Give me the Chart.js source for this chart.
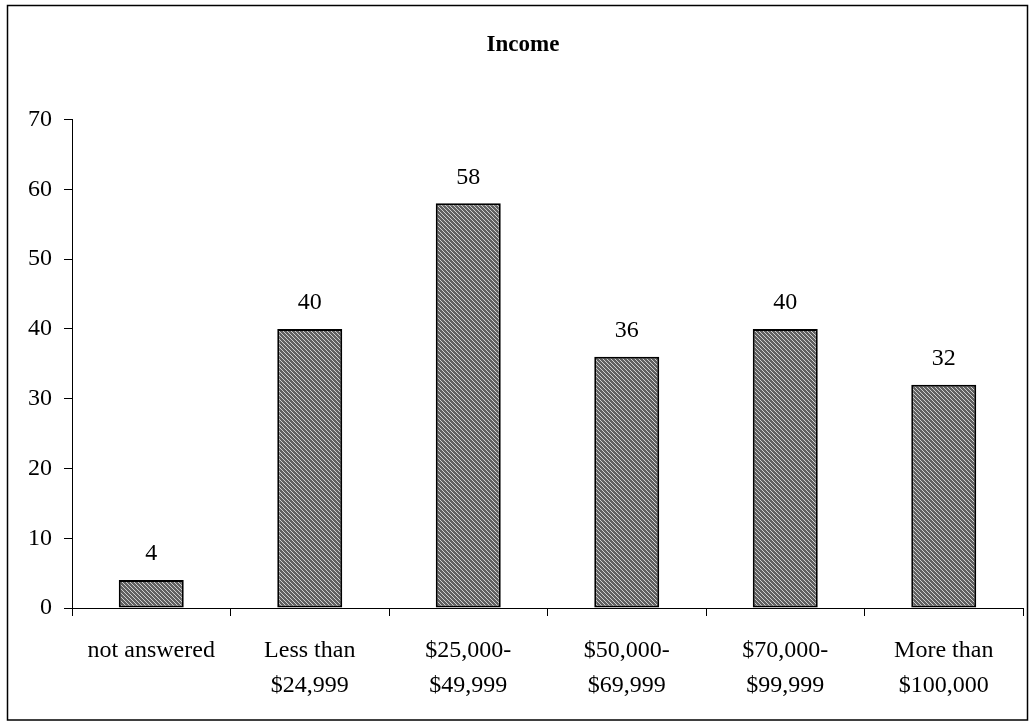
<!DOCTYPE html>
<html>
<head>
<meta charset="utf-8">
<title>Income</title>
<script src="https://cdn.jsdelivr.net/npm/chart.js@4"></script>
<style>
  html, body { margin: 0; padding: 0; background: #fff; }
  #wrap { position: relative; width: 1034px; height: 723px; }
</style>
</head>
<body>
<div id="wrap"><canvas id="incomeChart" width="1034" height="723"></canvas></div>
<script>
const categories = [
  "not answered",
  ["Less than", "$24,999"],
  ["$25,000-", "$49,999"],
  ["$50,000-", "$69,999"],
  ["$70,000-", "$99,999"],
  ["More than", "$100,000"]
];
const counts = [4, 40, 58, 36, 40, 32];
const yTicks = [0, 10, 20, 30, 40, 50, 60, 70];

const serif = "'Liberation Serif', 'Times New Roman', serif";

// hatched grey fill for the bars
function hatch() {
  const c = document.createElement("canvas");
  c.width = 4;
  c.height = 4;
  const g = c.getContext("2d");
  g.fillStyle = "#606060";
  g.fillRect(0, 0, 4, 4);
  g.fillStyle = "#cfcfcf";
  for (let y = 0; y < 4; y++) {
    for (let x = 0; x < 4; x++) {
      if ((x - y + 4) % 4 === 0) g.fillRect(x, y, 1, 1);
    }
  }
  return g.createPattern(c, "repeat");
}

// outer frame around the whole chart
const framePlugin = {
  id: "frame",
  beforeDraw(chart) {
    const ctx = chart.ctx;
    ctx.save();
    ctx.strokeStyle = "#000";
    ctx.lineWidth = 1.5;
    ctx.strokeRect(7.5, 5.5, 1020, 714.5);
    ctx.restore();
  }
};

// numbers above each bar
const valueLabels = {
  id: "valueLabels",
  afterDatasetsDraw(chart) {
    const ctx = chart.ctx;
    const meta = chart.getDatasetMeta(0);
    ctx.save();
    ctx.font = "24px " + serif;
    ctx.fillStyle = "#000";
    ctx.textAlign = "center";
    ctx.textBaseline = "middle";
    meta.data.forEach((bar, i) => {
      ctx.fillText(String(counts[i]), bar.x, bar.y - 26);
    });
    ctx.restore();
  }
};

const ctx = document.getElementById("incomeChart").getContext("2d");
const incomeChart = new Chart(ctx, {
  type: "bar",
  data: {
    labels: categories,
    datasets: [
      {
        data: counts,
        backgroundColor: hatch(),
        borderColor: "#000",
        borderWidth: 2,
        borderSkipped: false,
        barPercentage: 0.41,
        categoryPercentage: 1.0
      }
    ]
  },
  options: {
    responsive: false,
    animation: false,
    layout: {
      padding: { left: 23, right: 11, top: 0, bottom: 0 }
    },
    plugins: {
      legend: { display: false },
      tooltip: { enabled: false },
      title: {
        display: true,
        text: "Income",
        color: "#000",
        font: { family: serif, size: 23, weight: "bold", lineHeight: 1.2 },
        padding: { top: 31, bottom: 61 }
      }
    },
    scales: {
      x: {
        grid: {
          offset: true,
          drawOnChartArea: false,
          drawTicks: true,
          tickLength: 8,
          color: "#000"
        },
        border: { color: "#000", width: 1 },
        ticks: {
          color: "#000",
          padding: 17,
          maxRotation: 0,
          autoSkip: false,
          font: { family: serif, size: 24, lineHeight: 1.46 }
        },
        afterFit(scale) {
          scale.height = 115;
        }
      },
      y: {
        min: 0,
        max: 70,
        afterBuildTicks(scale) {
          scale.ticks = yTicks.map(v => ({ value: v }));
        },
        grid: {
          drawOnChartArea: false,
          drawTicks: true,
          tickLength: 8,
          color: "#000"
        },
        border: { color: "#000", width: 1 },
        ticks: {
          color: "#000",
          padding: 12,
          font: { family: serif, size: 24 }
        },
        afterFit(scale) {
          scale.width = 49;
        }
      }
    }
  },
  plugins: [framePlugin, valueLabels]
});
</script>
</body>
</html>
